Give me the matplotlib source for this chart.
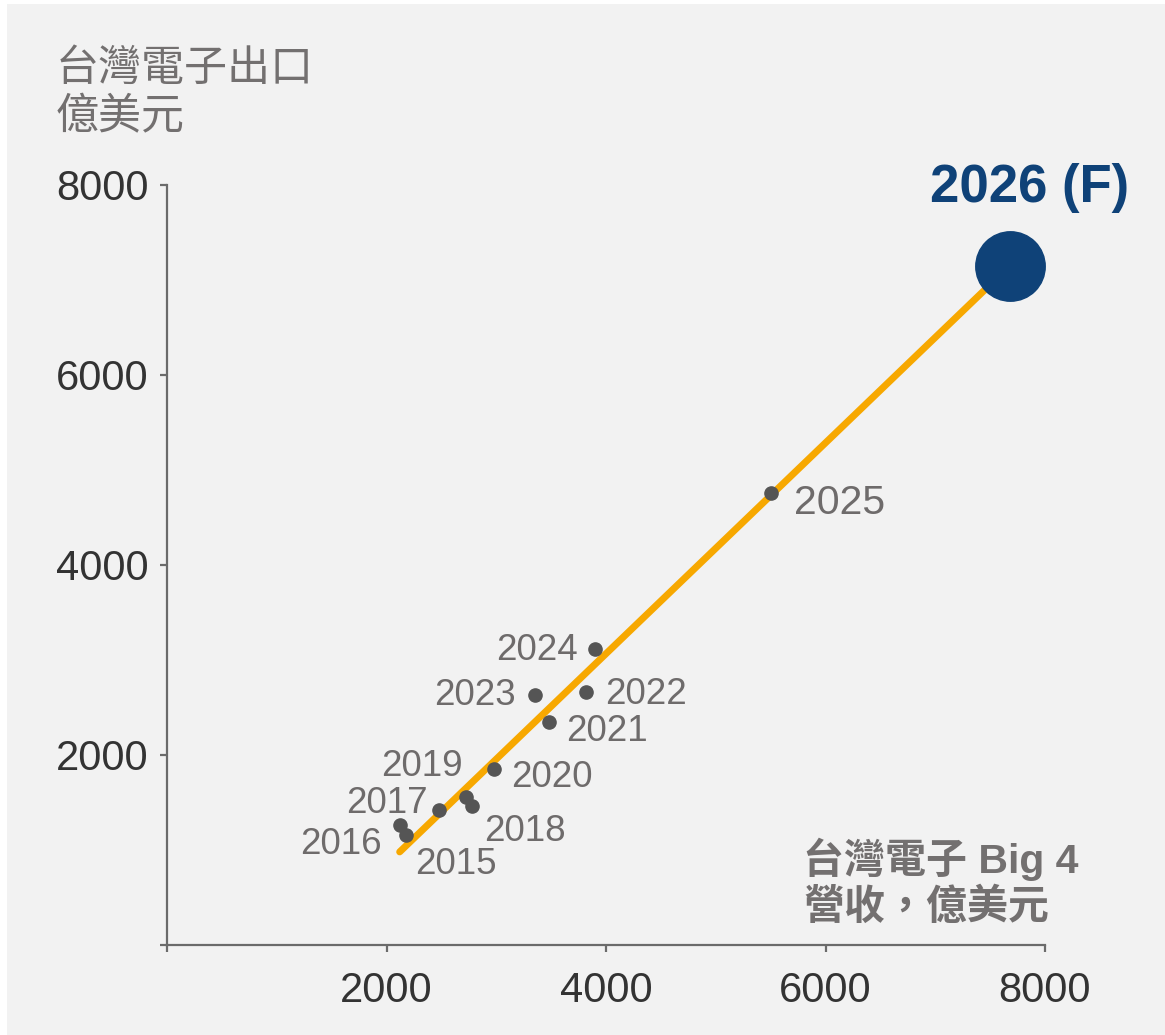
import matplotlib
matplotlib.use('Agg')
import matplotlib.pyplot as plt
from matplotlib.patches import Rectangle

plt.rcParams['font.family'] = ['Liberation Sans', 'Noto Sans CJK TC', 'DejaVu Sans']

# data
years = ['2015', '2016', '2017', '2018', '2019', '2020', '2021', '2022', '2023', '2024', '2025']
big4_rev = [2175, 2120, 2480, 2775, 2720, 2975, 3480, 3820, 3355, 3900, 5500]
tw_export = [1160, 1265, 1420, 1465, 1560, 1855, 2345, 2660, 2630, 3115, 4760]
forecast_x = 7680
forecast_y = 7150
trend_x = [2120, 7680]
trend_y = [980, 7150]

# label offsets in pixels (dx, dy) from each point
lab_off = [(50, -30), (-59, -20), (-52, 7), (53, -26), (-44, 30), (58, -9),
           (58, -9), (60, -2), (-60, 0), (-58, -1), (69, -10)]
lab_size = [26.5] * 10 + [29.5]

fig = plt.figure(figsize=(11.65, 10.35), dpi=100, facecolor='white')
fig.patches.append(Rectangle((7 / 1165, 0), 1, (1035 - 4) / 1035, transform=fig.transFigure,
                             facecolor='#f2f2f2', edgecolor='none', zorder=-10))

ax = fig.add_axes([167 / 1165, 90 / 1035, 878 / 1165, 760 / 1035])
ax.set_facecolor('none')
ax.set_xlim(0, 8000)
ax.set_ylim(0, 8000)

ax.plot(trend_x, trend_y, color='#f7a800', lw=5, solid_capstyle='round', zorder=2)
ax.plot(big4_rev, tw_export, 'o', color='#555555', ms=9.5, zorder=3, clip_on=False)
ax.plot([forecast_x], [forecast_y], 'o', color='#0f4278', ms=50, zorder=4, clip_on=False)

for i, yr in enumerate(years):
    ax.annotate(yr, (big4_rev[i], tw_export[i]), xytext=lab_off[i], textcoords='offset pixels',
                ha='center', va='center', fontsize=lab_size[i], color='#6e6b6b')

ax.annotate('2026 (F)', (forecast_x, forecast_y), xytext=(20, 78), textcoords='offset pixels',
            ha='center', va='center', fontsize=38, fontweight='bold', color='#0f4278')

for s in ['top', 'right']:
    ax.spines[s].set_visible(False)
for s in ['left', 'bottom']:
    ax.spines[s].set_color('#6b6b6b')
    ax.spines[s].set_linewidth(1.6)

ax.set_xticks([0, 2000, 4000, 6000, 8000])
ax.set_xticklabels(['', '2000', '4000', '6000', '8000'])
ax.set_yticks([0, 2000, 4000, 6000, 8000])
ax.set_yticklabels(['', '2000', '4000', '6000', '8000'])
ax.tick_params(direction='out', length=5, width=1.6, color='#6b6b6b', labelsize=30,
               labelcolor='#333333')
ax.tick_params(axis='x', pad=14)
ax.tick_params(axis='y', pad=8)

fig.text(56 / 1165, 1 - 94 / 1035, '台灣電子出口\n億美元', ha='left', va='center',
         fontsize=31, fontweight='medium', color='#737070', linespacing=1.25)
fig.text(803 / 1165, 1 - 882 / 1035, '台灣電子 Big 4\n營收，億美元', ha='left', va='center',
         fontsize=29.5, fontweight='bold', color='#737070', linespacing=1.2)

fig.savefig('out.png', dpi=100, facecolor=fig.get_facecolor())
